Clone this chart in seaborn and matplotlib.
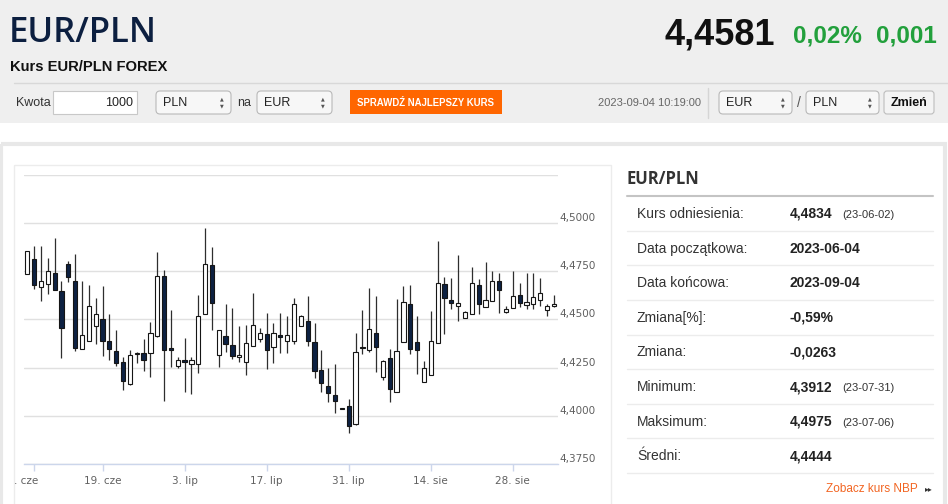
import numpy as np
import pandas as pd
import matplotlib
matplotlib.use("Agg")
import matplotlib.pyplot as plt
from matplotlib import font_manager as fm
from matplotlib.patches import Rectangle, FancyBboxPatch
from matplotlib.transforms import ScaledTranslation
import seaborn as sns

# EUR/PLN daily candles, 2023-06-02 .. 2023-09-04
opens = [4.4736, 4.4814, 4.4667, 4.4683, 4.4743, 4.4647, 4.4786, 4.4702, 4.4348, 4.4391,
         4.4466, 4.4502, 4.4390, 4.4334, 4.4279, 4.4164, 4.4319, 4.4326, 4.4326, 4.4414,
         4.4724, 4.4350, 4.4259, 4.4288, 4.4269, 4.4269, 4.4526, 4.4783, 4.4316, 4.4412,
         4.4366, 4.4305, 4.4278, 4.4360, 4.4400, 4.4426, 4.4355, 4.4417, 4.4386, 4.4391,
         4.4466, 4.4491, 4.4381, 4.4240, 4.4155, 4.4109, 4.4040, 4.4052, 4.3957, 4.4359,
         4.4340, 4.4429, 4.4203, 4.4298, 4.4124, 4.4384, 4.4581, 4.4381, 4.4174, 4.4210,
         4.4379, 4.4683, 4.4603, 4.4569, 4.4510, 4.4526, 4.4681, 4.4567, 4.4597, 4.4698,
         4.4538, 4.4560, 4.4626, 4.4574, 4.4581, 4.4602, 4.4550, 4.4569]
highs = [4.4856, 4.4879, 4.4879, 4.4819, 4.4921, 4.4698, 4.4803, 4.4838, 4.4698, 4.4679,
         4.4612, 4.4674, 4.4528, 4.4447, 4.4305, 4.4340, 4.4331, 4.4397, 4.4486, 4.4848,
         4.4759, 4.4550, 4.4305, 4.4403, 4.4305, 4.4628, 4.4975, 4.4874, 4.4445, 4.4583,
         4.4559, 4.4467, 4.4471, 4.4638, 4.4457, 4.4533, 4.4481, 4.4533, 4.4517, 4.4612,
         4.4521, 4.4622, 4.4481, 4.4340, 4.4250, 4.4269, 4.4041, 4.4088, 4.4431, 4.4548,
         4.4664, 4.4622, 4.4290, 4.4345, 4.4607, 4.4672, 4.4679, 4.4517, 4.4284, 4.4543,
         4.4907, 4.4719, 4.4714, 4.4834, 4.4542, 4.4774, 4.4712, 4.4800, 4.4750, 4.4740,
         4.4569, 4.4750, 4.4690, 4.4741, 4.4741, 4.4714, 4.4583, 4.4628]
lows = [4.4734, 4.4660, 4.4595, 4.4634, 4.4653, 4.4302, 4.4693, 4.4336, 4.4346, 4.4386,
        4.4374, 4.4309, 4.4288, 4.4259, 4.4133, 4.4162, 4.4274, 4.4233, 4.4202, 4.4409,
        4.4076, 4.4252, 4.4248, 4.4122, 4.4112, 4.4222, 4.4526, 4.4447, 4.4252, 4.4329,
        4.4295, 4.4279, 4.4214, 4.4360, 4.4384, 4.4243, 4.4275, 4.4328, 4.4324, 4.4374,
        4.4466, 4.4360, 4.4195, 4.4122, 4.4074, 4.4014, 4.4037, 4.3912, 4.3955, 4.4322,
        4.4333, 4.4228, 4.4184, 4.4072, 4.4122, 4.4383, 4.4319, 4.4219, 4.4174, 4.4210,
        4.4379, 4.4424, 4.4555, 4.4490, 4.4509, 4.4526, 4.4526, 4.4566, 4.4597, 4.4536,
        4.4534, 4.4559, 4.4564, 4.4552, 4.4555, 4.4569, 4.4516, 4.4564]
closes = [4.4853, 4.4681, 4.4700, 4.4753, 4.4655, 4.4455, 4.4719, 4.4353, 4.4421, 4.4572,
          4.4528, 4.4390, 4.4345, 4.4274, 4.4179, 4.4316, 4.4326, 4.4290, 4.4431, 4.4728,
          4.4340, 4.4341, 4.4290, 4.4279, 4.4290, 4.4517, 4.4790, 4.4586, 4.4445, 4.4371,
          4.4310, 4.4317, 4.4378, 4.4471, 4.4431, 4.4341, 4.4428, 4.4410, 4.4421, 4.4581,
          4.4517, 4.4390, 4.4234, 4.4169, 4.4119, 4.4078, 4.4038, 4.3948, 4.4329, 4.4352,
          4.4450, 4.4357, 4.4283, 4.4138, 4.4334, 4.4591, 4.4347, 4.4341, 4.4248, 4.4386,
          4.4688, 4.4610, 4.4588, 4.4584, 4.4541, 4.4688, 4.4581, 4.4603, 4.4698, 4.4652,
          4.4553, 4.4621, 4.4584, 4.4590, 4.4617, 4.4636, 4.4572, 4.4581]

tick_pos = [1, 11, 23, 35, 47, 59, 71]
tick_labels = [". cze", "19. cze", "3. lip", "17. lip", "31. lip", "14. sie", "28. sie"]
price_grid = [4.375, 4.400, 4.425, 4.450, 4.475, 4.500, 4.525]
price_labels = ["4,3750", "4,4000", "4,4250", "4,4500", "4,4750", "4,5000", ""]

stat_names = ["Kurs odniesienia:", "Data początkowa:", "Data końcowa:", "Zmiana[%]:",
              "Zmiana:", "Minimum:", "Maksimum:", "Średni:"]
stat_values = ["4,4834", "2023-06-04", "2023-09-04", "-0,59%", "-0,0263", "4,3912", "4,4975", "4,4444"]
stat_dates = ["(23-06-02)", "", "", "", "", "(23-07-31)", "(23-07-06)", ""]

sns.set_theme(style="white")
plt.rcParams['font.family'] = ['Liberation Sans', 'DejaVu Sans']


def narrow_font():
    try:
        fm.findfont("Liberation Sans Narrow", fallback_to_default=False)
        return "Liberation Sans Narrow", 1.0
    except Exception:
        return "Liberation Sans", 0.82


NARROW, NSCALE = narrow_font()
TITLE_FONT = ["Open Sans", "Liberation Sans"]

fig = plt.figure(figsize=(9.48, 5.04), dpi=100)
fig.patch.set_facecolor("white")

# page layer in pixel coordinates
page = fig.add_axes([0, 0, 1, 1], zorder=0)
page.set_xlim(0, 948)
page.set_ylim(504, 0)
page.axis("off")

page.add_patch(Rectangle((0, 0), 948, 123, fc="#efefef", ec="none"))
page.plot([14, 948], [82.5, 82.5], color="#d8d8d8", lw=1)
page.add_patch(Rectangle((1.5, 144), 944, 370, fill=False, ec="#e8e8e8", lw=3))
page.add_patch(Rectangle((14, 165), 597, 345, fill=False, ec="#ececec", lw=1))

# header
page.text(9, 41.5, "EUR/PLN", fontsize=25, family=TITLE_FONT, weight="semibold",
          color="#0c1f40", va="baseline")
page.text(10, 71, "Kurs EUR/PLN FOREX", fontsize=10.6, weight="bold",
          color="#111111", va="baseline")
page.text(775, 44, "4,4581", ha="right", fontsize=26, weight="bold", color="#111111", va="baseline")
page.text(793, 42, "0,02%", fontsize=17.5, weight="bold", color="#22a03c", va="baseline")
page.text(937, 42, "0,001", ha="right", fontsize=17.5, weight="bold", color="#22a03c", va="baseline")


def select_box(x, w, label):
    page.add_patch(FancyBboxPatch((x, 91), w, 23, boxstyle="round,pad=0,rounding_size=4",
                                  fc="#f7f7f7", ec="#b9b9b9", lw=0.8))
    page.text(x + 7, 102.5, label, fontsize=9, color="#222222", va="center")
    page.text(x + w - 9, 99, "▲", fontsize=3.5, color="#555555", ha="center", va="center",
              family="DejaVu Sans")
    page.text(x + w - 9, 106, "▼", fontsize=3.5, color="#555555", ha="center", va="center",
              family="DejaVu Sans")


page.text(16, 102.5, "Kwota", fontsize=9, color="#333333", va="center")
page.add_patch(Rectangle((53, 91), 84, 23, fc="white", ec="#c8c8c8", lw=0.8))
page.text(133, 102.5, "1000", fontsize=9, color="#222222", ha="right", va="center")
select_box(156, 75, "PLN")
page.text(237, 102.5, "na", fontsize=9, color="#333333", va="center")
select_box(257, 75, "EUR")
page.add_patch(Rectangle((350, 90), 152, 24, fc="#ff6600", ec="none"))
page.text(426, 102.5, "SPRAWDŹ NAJLEPSZY KURS", fontsize=8.5 * NSCALE, family=NARROW,
          weight="bold", color="white", ha="center", va="center")
page.text(598, 102.5, "2023-09-04 10:19:00", fontsize=8, color="#666666", va="center")
page.plot([708, 708], [88, 118], color="#d5d5d5", lw=1)
select_box(719, 73, "EUR")
page.text(799, 103, "/", fontsize=10, color="#555555", ha="center", va="center")
select_box(806, 73, "PLN")
page.add_patch(FancyBboxPatch((884, 91), 50, 23, boxstyle="round,pad=0,rounding_size=3",
                              fc="#f4f4f4", ec="#bdbdbd", lw=0.8))
page.text(909, 102.5, "Zmień", fontsize=9, weight="bold", color="#111111", ha="center", va="center")

# stats table
page.text(627, 184, "EUR/PLN", fontsize=12, family=TITLE_FONT, weight="bold",
          color="#333333", va="baseline")
page.plot([627, 933], [195.5, 195.5], color="#c4c4c4", lw=1.5)
for k, (name, val, date) in enumerate(zip(stat_names, stat_values, stat_dates)):
    y = 218 + k * 34.6
    page.text(637, y, name, fontsize=10, color="#333333", va="baseline")
    page.text(790, y, val, fontsize=10, weight="bold", color="#222222", va="baseline")
    if date:
        page.text(842, y, date, fontsize=8, color="#333333", va="baseline")
    page.plot([627, 933], [y + 12.7, y + 12.7], color="#ececec", lw=1)
page.text(918, 489, "Zobacz kurs NBP", fontsize=8.5, color="#f26522", ha="right", va="center")
page.text(933, 489, "▸▸", fontsize=5.5, color="#333333", ha="right", va="center", family="DejaVu Sans")

# candlestick chart
df = pd.DataFrame({"open": opens, "high": highs, "low": lows, "close": closes})
df["i"] = np.arange(len(df))
up = df["close"] >= df["open"]
body_bottom = df[["open", "close"]].min(axis=1)
body_height = (df["close"] - df["open"]).abs().clip(lower=0.00006)

ax = fig.add_axes([24 / 948, 1 - 464 / 504, (558 - 24) / 948, (464 - 175) / 504], zorder=2)
ax.set_facecolor("none")
ax.vlines(df["i"], df["low"], df["high"], color="#2e2e2e", lw=0.9, zorder=2)
ax.bar(df["i"], body_height, bottom=body_bottom, width=0.62,
       color=np.where(up, "white", "#0d2142"), edgecolor="#151515", linewidth=0.8, zorder=3)

ax.set_xlim(-0.48, 77.6)
ax.set_ylim(4.375, 4.525)
ax.set_yticks(price_grid)
ax.set_yticklabels(price_labels)
ax.yaxis.tick_right()
ax.yaxis.grid(True, color="#e0e0e0", lw=1)
ax.xaxis.grid(False)
ax.set_axisbelow(True)
ax.tick_params(axis="y", length=0, pad=1, labelsize=7.5, labelcolor="#606060")
for lab in ax.get_yticklabels():
    lab.set_family("DejaVu Sans")
    lab.set_transform(lab.get_transform() + ScaledTranslation(0, 6 / 100, fig.dpi_scale_trans))

ax.set_xticks(tick_pos)
ax.set_xticklabels(tick_labels)
ax.tick_params(axis="x", bottom=True, length=5, width=1, color="#ccd6eb", pad=4,
               labelsize=7.5, labelcolor="#606060")
xlabs = ax.get_xticklabels()
for lab in xlabs:
    lab.set_family("DejaVu Sans")
xlabs[0].set_ha("right")
xlabs[0].set_transform(xlabs[0].get_transform() + ScaledTranslation(4.5 / 100, 0, fig.dpi_scale_trans))

sns.despine(ax=ax, left=True, right=True, top=True)
ax.spines["bottom"].set_color("#ccd6eb")
ax.spines["bottom"].set_linewidth(1)

fig.savefig("out.png", dpi=100)
